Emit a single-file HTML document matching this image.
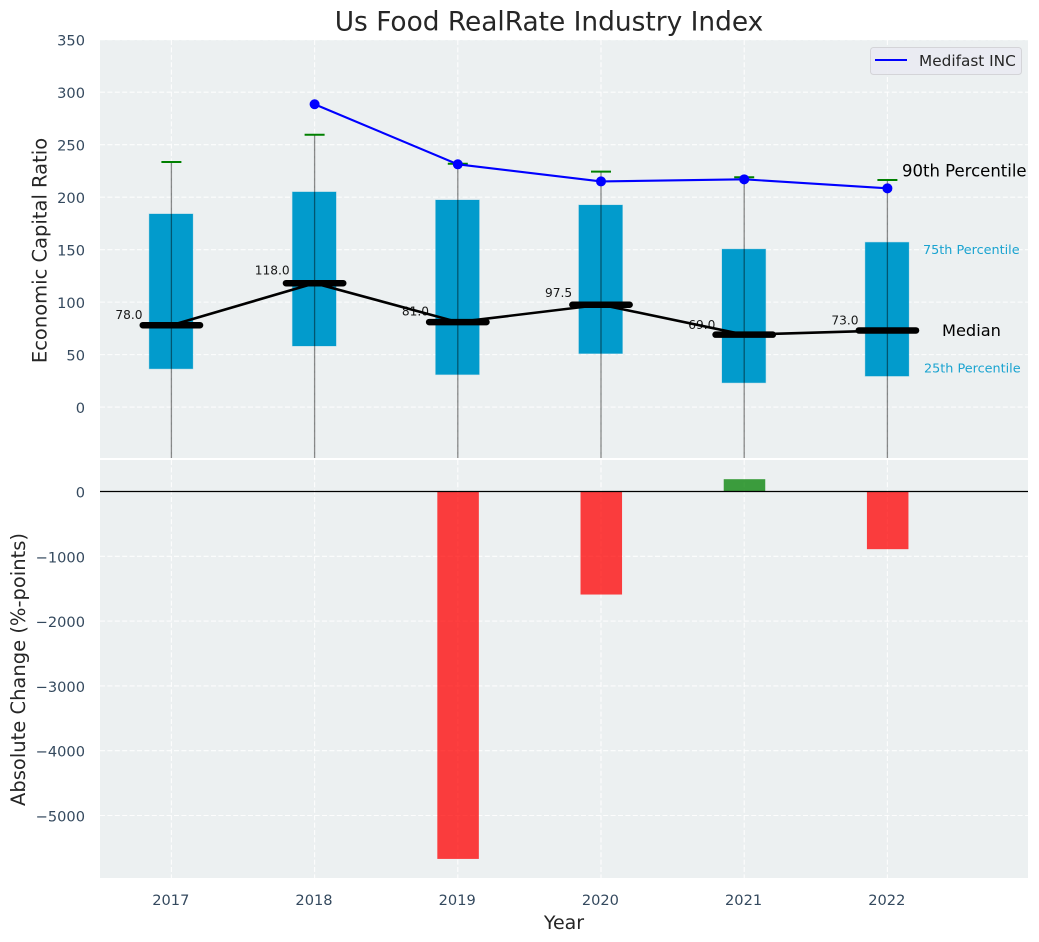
<!DOCTYPE html>
<html>
<head>
<meta charset="utf-8">
<title>Us Food RealRate Industry Index</title>
<style>
html,body{margin:0;padding:0;background:#fff;width:1039px;height:942px;overflow:hidden}
svg{display:block;font-family:"DejaVu Sans","Liberation Sans",sans-serif}
</style>
</head>
<body>
<svg id="chart" xmlns="http://www.w3.org/2000/svg" width="1039" height="942" viewBox="0 0 1039 942"></svg>
<script>
const years = [2017, 2018, 2019, 2020, 2021, 2022];
const p25 = [36.5, 58.2, 31, 51, 23.2, 29.5];
const p75 = [184, 205, 197.3, 192.5, 150.5, 157];
const p90 = [233.5, 259.5, 231.8, 224.3, 219, 216.3];
const p10 = [-70, -65, -75, -60, -80, -70];
const medians = [78, 118, 81, 97.5, 69, 73];
const medifast = [null, 288.5, 231.3, 215, 217, 208.4];
const changes = [0, 0, -5670, -1590, 190, -890];
const topTicks = [0, 50, 100, 150, 200, 250, 300, 350];
const bottomTicks = [0, -1000, -2000, -3000, -4000, -5000];

const svg = document.getElementById('chart');
const NS = 'http://www.w3.org/2000/svg';
const L = 100, R = 1028, T1 = 40, B1 = 458, T2 = 460, B2 = 878;

function x(v) { return 171.4 + (v - 2017) * 143.2; }
function y1(v) { return 407.1 - v * 1.0497; }
function y2(v) { return 491.5 - v * 0.0648; }

function mk(parent, tag, attrs, text) {
  const e = document.createElementNS(NS, tag);
  for (const k in attrs) e.setAttribute(k, attrs[k]);
  if (text !== undefined) e.textContent = text;
  parent.appendChild(e);
  return e;
}
function fmt(v) { return v < 0 ? '\u2212' + Math.abs(v) : String(v); }

const defs = mk(svg, 'defs', {});
const c1 = mk(defs, 'clipPath', { id: 'clip-top' });
mk(c1, 'rect', { x: L, y: T1, width: R - L, height: B1 - T1 });
const c2 = mk(defs, 'clipPath', { id: 'clip-bottom' });
mk(c2, 'rect', { x: L, y: T2, width: R - L, height: B2 - T2 });

const topBg = mk(svg, 'rect', { x: L, y: T1, width: R - L, height: B1 - T1, fill: '#ecf0f1' });


const botBg = mk(svg, 'rect', { x: L, y: T2, width: R - L, height: B2 - T2, fill: '#ecf0f1' });



const gridAttrs = { stroke: '#ffffff', 'stroke-width': 1.1, 'stroke-dasharray': '5 2.4', opacity: 0.9 };
const topG = mk(svg, 'g', { 'clip-path': 'url(#clip-top)' });


const botG = mk(svg, 'g', { 'clip-path': 'url(#clip-bottom)' });



years.forEach(function (yr) {
  const a = mk(topG, 'line', Object.assign({ x1: x(yr), x2: x(yr), y1: T1, y2: B1 }, gridAttrs));
  
  
  const b = mk(botG, 'line', Object.assign({ x1: x(yr), x2: x(yr), y1: T2, y2: B2 }, gridAttrs));
  
  
  const t = mk(svg, 'text', { x: x(yr) - 0.6, y: 905, 'text-anchor': 'middle', 'font-size': 14.6, fill: '#34495e' }, String(yr));
  
  
});
topTicks.forEach(function (v) {
  const a = mk(topG, 'line', Object.assign({ x1: L, x2: R, y1: y1(v), y2: y1(v) }, gridAttrs));
  
  
  const t = mk(svg, 'text', { x: 85, y: y1(v) + 6, 'text-anchor': 'end', 'font-size': 14.6, fill: '#34495e' }, fmt(v));
  
  
});
bottomTicks.forEach(function (v) {
  const a = mk(botG, 'line', Object.assign({ x1: L, x2: R, y1: y2(v), y2: y2(v) }, gridAttrs));
  
  
  const t = mk(svg, 'text', { x: 85, y: y2(v) + 6, 'text-anchor': 'end', 'font-size': 14.6, fill: '#34495e' }, fmt(v));
  
  
});

years.forEach(function (yr, i) {
  const box = mk(topG, 'rect', {
    x: x(yr - 0.155), y: y1(p75[i]), width: x(yr + 0.15) - x(yr - 0.155), height: y1(p25[i]) - y1(p75[i]),
    fill: '#029bcc', stroke: '#029bcc', 'stroke-opacity': 0.25, 'stroke-width': 1
  });
  
  
  const w = mk(topG, 'line', { x1: x(yr), x2: x(yr), y1: y1(p90[i]), y2: y1(p10[i]), stroke: '#000', 'stroke-opacity': 0.45, 'stroke-width': 1.3 });
  
  
  const cap = mk(topG, 'line', { x1: x(yr) - 10, x2: x(yr) + 10, y1: y1(p90[i]), y2: y1(p90[i]), stroke: '#008000', 'stroke-width': 2 });
  
  
});

const medPts = years.map(function (yr, i) { return x(yr) + ',' + y1(medians[i]); }).join(' ');
const medLine = mk(topG, 'polyline', { points: medPts, fill: 'none', stroke: '#000', 'stroke-width': 2.6 });



years.forEach(function (yr, i) {
  const m = mk(topG, 'line', { x1: x(yr - 0.2), x2: x(yr + 0.2), y1: y1(medians[i]), y2: y1(medians[i]), stroke: '#000', 'stroke-width': 6.5, 'stroke-linecap': 'round' });
  
  
  const t = mk(topG, 'text', { x: x(yr) - 42.4, y: y1(medians[i] * 1.06) - 1.5, 'text-anchor': 'middle', 'font-size': 12.2, fill: '#000', 'fill-opacity': 0.9 }, medians[i].toFixed(1));
  
  
});

const mfYears = years.filter(function (yr, i) { return medifast[i] !== null; });
const mfPts = mfYears.map(function (yr) { return x(yr) + ',' + y1(medifast[years.indexOf(yr)]); }).join(' ');
const mfLine = mk(topG, 'polyline', { points: mfPts, fill: 'none', stroke: '#0000ff', 'stroke-width': 2.1 });


mfYears.forEach(function (yr) {
  const d = mk(topG, 'circle', { cx: x(yr), cy: y1(medifast[years.indexOf(yr)]), r: 5, fill: '#0000ff' });
  
  
});

const lastI = years.length - 1;
const a90 = mk(svg, 'text', { x: 902, y: y1(p90[lastI]) - 3.5, 'font-size': 16.5, fill: '#000' }, '90th Percentile');


const a75 = mk(svg, 'text', { x: 923, y: y1(p75[lastI]) + 11.7, 'font-size': 12.8, fill: '#1aa3d0' }, '75th Percentile');


const aMed = mk(svg, 'text', { x: 942, y: y1(medians[lastI]) + 5.5, 'font-size': 16.2, fill: '#000' }, 'Median');


const a25 = mk(svg, 'text', { x: 924, y: y1(p25[lastI]) - 3.4, 'font-size': 12.8, fill: '#1aa3d0' }, '25th Percentile');



years.forEach(function (yr, i) {
  if (!changes[i]) return;
  const v = changes[i];
  const b = mk(botG, 'rect', {
    x: x(yr - 0.143), width: x(yr + 0.147) - x(yr - 0.143),
    y: Math.min(y2(v), y2(0)), height: Math.abs(y2(v) - y2(0)),
    fill: v < 0 ? '#ff0000' : '#008000', 'fill-opacity': 0.75
  });
  
  
});
const zero = mk(botG, 'line', { x1: L, x2: R, y1: y2(0), y2: y2(0), stroke: '#000', 'stroke-width': 1.2 });



const legend = mk(svg, 'g', {});


const lb = mk(legend, 'rect', { x: 870.5, y: 47.5, width: 151, height: 27, rx: 3, fill: '#eaeaf2', 'fill-opacity': 0.9, stroke: '#d4d4d8', 'stroke-width': 1 });


const ll = mk(legend, 'line', { x1: 875, x2: 907, y1: 60, y2: 60, stroke: '#0000ff', 'stroke-width': 2 });


const lt = mk(legend, 'text', { x: 919, y: 66, 'font-size': 15.3, fill: '#262626' }, 'Medifast INC');



const title = mk(svg, 'text', { x: 549, y: 30.5, 'text-anchor': 'middle', 'font-size': 26.4, fill: '#262626' }, 'Us Food RealRate Industry Index');


const yl1 = mk(svg, 'text', { transform: 'translate(46.5,250.5) rotate(-90)', 'text-anchor': 'middle', 'font-size': 19.5, fill: '#262626' }, 'Economic Capital Ratio');


const yl2 = mk(svg, 'text', { transform: 'translate(25,669.5) rotate(-90)', 'text-anchor': 'middle', 'font-size': 19.5, fill: '#262626' }, 'Absolute Change (%-points)');


const xl = mk(svg, 'text', { x: 564, y: 929, 'text-anchor': 'middle', 'font-size': 19, fill: '#262626' }, 'Year');


</script>
</body>
</html>
